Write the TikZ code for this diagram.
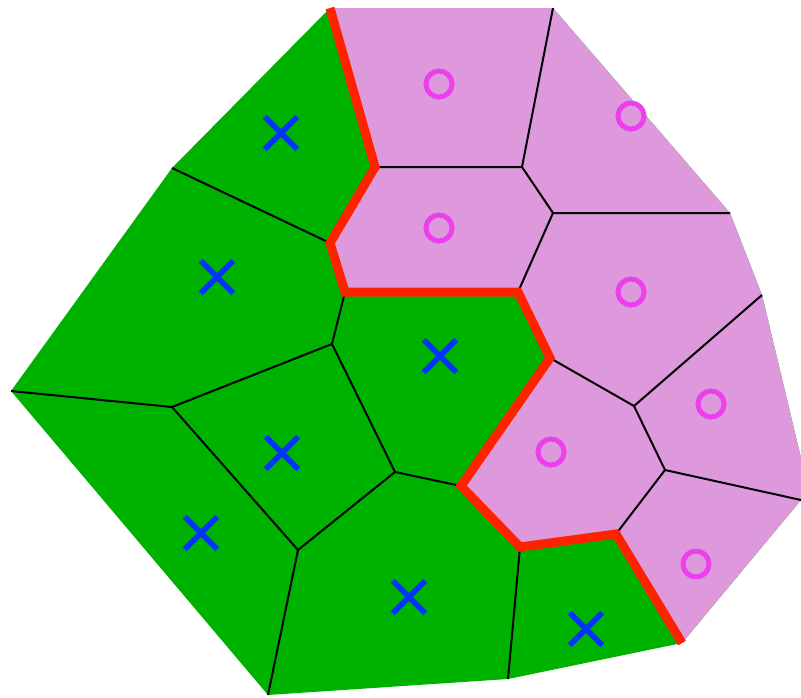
\documentclass[tikz,border=0pt]{standalone}
\usepackage{tikz}
\usetikzlibrary{shapes.misc}
\definecolor{CellGreen}{RGB}{0,178,0}
\definecolor{CellPink}{RGB}{221,153,219}
\definecolor{CutRed}{RGB}{255,34,0}
\definecolor{MarkPink}{RGB}{236,64,236}
\definecolor{MarkBlue}{RGB}{0,51,255}
\tikzset{
  edge/.style={black, line width=2pt},
  cut/.style={CutRed, line width=9pt, line join=miter},
  xmark/.style={cross out, draw=MarkBlue, line width=5.5pt, minimum size=27pt, inner sep=0pt},
  omark/.style={circle, draw=MarkPink, line width=5pt, minimum size=26pt, inner sep=0pt}
}
\begin{document}
\begin{tikzpicture}[x=1pt, y=-1pt]
  \useasboundingbox (0,0) rectangle (801,697);
  % hull corners
  \coordinate (t1) at (330,8);
  \coordinate (t2) at (553,8);
  \coordinate (r1) at (730,213);
  \coordinate (r2) at (762,295);
  \coordinate (r3) at (801,458);
  \coordinate (r4) at (801,500);
  \coordinate (b1) at (682,643);
  \coordinate (b2) at (508,679);
  \coordinate (b3) at (268,695);
  \coordinate (l1) at (11,391);
  \coordinate (l2) at (172,168);
  % inner vertices
  \coordinate (A) at (375,167);
  \coordinate (B) at (522,167);
  \coordinate (C) at (553,213);
  \coordinate (D) at (330,243);
  \coordinate (E) at (345,292);
  \coordinate (F) at (518,292);
  \coordinate (G) at (550,358);
  \coordinate (H) at (332,344);
  \coordinate (I) at (172,407);
  \coordinate (J) at (395,472);
  \coordinate (K) at (461,486);
  \coordinate (L) at (634,406);
  \coordinate (M) at (665,470);
  \coordinate (N) at (520,547);
  \coordinate (O) at (616,534);
  \coordinate (P) at (298,550);

  % cells
  \fill[CellGreen] (t1) -- (t2) -- (r1) -- (r2) -- (r3) -- (r4) -- (b1) -- (b2) -- (b3) -- (l1) -- (l2) -- cycle;
  \fill[CellPink] (t1) -- (t2) -- (r1) -- (r2) -- (r3) -- (r4) -- (b1) -- (O) -- (N) -- (K) -- (G) -- (F) -- (E) -- (D) -- (A) -- cycle;

  % voronoi edges
  \draw[edge] (A) -- (B) (B) -- (t2) (B) -- (C) (C) -- (r1) (F) -- (C);
  \draw[edge] (D) -- (l2) (E) -- (H) (H) -- (I) (I) -- (l1) (H) -- (J);
  \draw[edge] (J) -- (K) (J) -- (P) (P) -- (I) (P) -- (b3) (N) -- (b2);
  \draw[edge] (G) -- (L) (L) -- (r2) (L) -- (M) (M) -- (r4) (M) -- (O);

  % class boundary
  \draw[cut] (t1) -- (A) -- (D) -- (E) -- (F) -- (G) -- (K) -- (N) -- (O) -- (b1);

  % sites
  \foreach \x/\y [count=\i] in {439/84, 631/116, 439/228, 631/292, 711/404, 551/452, 696/564}
    \node[omark] (o\i) at (\x,\y) {};
  \foreach \x/\y [count=\i] in {281/133, 217/277, 440/356, 282/453, 201/533, 409/597, 586/629}
    \node[xmark] (x\i) at (\x,\y) {};
\end{tikzpicture}
\end{document}
